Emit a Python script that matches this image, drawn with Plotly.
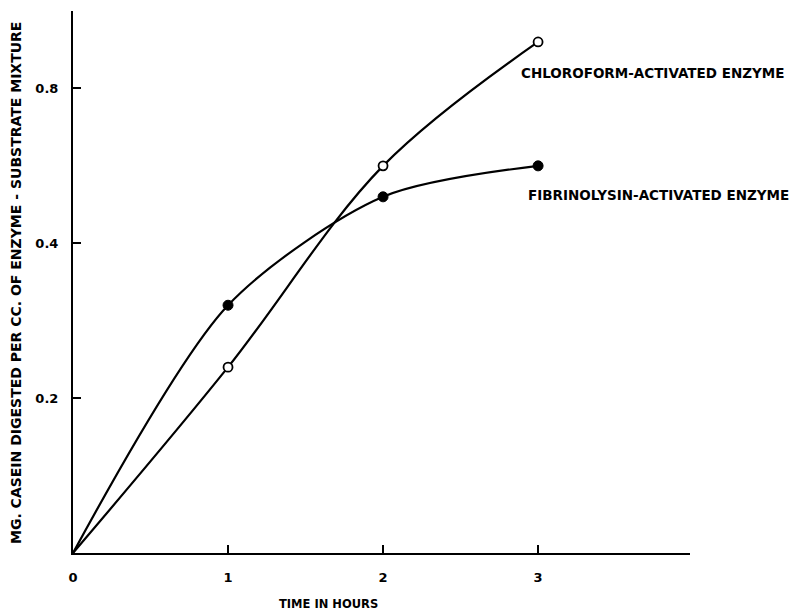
import plotly.graph_objects as go

hours = [0, 1, 2, 3]
chloroform = [0, 0.24, 0.50, 0.66]
fibrinolysin = [0, 0.32, 0.46, 0.50]

x_ticks = [0, 1, 2, 3]
x_ticklabels = ["0", "1", "2", "3"]
y_ticks = [0.2, 0.4, 0.6]
y_ticklabels = ["0.2", "0.4", "0.8"]

FONT = "DejaVu Sans"

fig = go.Figure()

fig.add_trace(go.Scatter(x=hours, y=chloroform, mode="lines",
                         line=dict(color="black", width=2.2, shape="spline", smoothing=1.0),
                         hoverinfo="skip", showlegend=False))
fig.add_trace(go.Scatter(x=hours, y=fibrinolysin, mode="lines",
                         line=dict(color="black", width=2.2, shape="spline", smoothing=0.8),
                         hoverinfo="skip", showlegend=False))
fig.add_trace(go.Scatter(x=hours[1:], y=chloroform[1:], mode="markers",
                         marker=dict(symbol="circle", size=9, color="white",
                                     line=dict(color="black", width=1.8)),
                         name="Chloroform-activated enzyme", showlegend=False))
fig.add_trace(go.Scatter(x=hours[1:], y=fibrinolysin[1:], mode="markers",
                         marker=dict(symbol="circle", size=10, color="black",
                                     line=dict(color="black", width=1)),
                         name="Fibrinolysin-activated enzyme", showlegend=False))

# plot area in page pixels: x 73..690, y 11..553 (page has an 8px body margin)
PX0, PX1, PY0, PY1 = 73, 690, 11, 553

fig.add_annotation(x=2.88, y=0.62, xref="x", yref="y", xanchor="left", yanchor="middle",
                   text="<b>CHLOROFORM-ACTIVATED ENZYME</b>", showarrow=False,
                   font=dict(family=FONT, size=13.5, color="black"))
fig.add_annotation(x=2.92, y=0.463, xref="x", yref="y", xanchor="left", yanchor="middle",
                   text="<b>FIBRINOLYSIN-ACTIVATED ENZYME</b>", showarrow=False,
                   font=dict(family=FONT, size=13.5, color="black"))
fig.add_annotation(x=(328 - PX0) / (PX1 - PX0), y=(PY1 - 604) / (PY1 - PY0),
                   xref="paper", yref="paper",
                   xanchor="center", yanchor="middle", showarrow=False,
                   text="<b>TIME IN HOURS</b>",
                   font=dict(family=FONT, size=11.5, color="black"))
fig.add_annotation(x=(16 - PX0) / (PX1 - PX0), y=(PY1 - 283) / (PY1 - PY0),
                   xref="paper", yref="paper",
                   xanchor="center", yanchor="middle", showarrow=False, textangle=-90,
                   text="<b>MG. CASEIN DIGESTED PER CC. OF ENZYME - SUBSTRATE MIXTURE</b>",
                   font=dict(family=FONT, size=14, color="black"))

W, H = 796, 605
fig.update_layout(
    width=W, height=H,
    margin=dict(l=PX0 - 8, r=W - (PX1 - 8), t=PY0 - 8, b=H - (PY1 - 8)),
    paper_bgcolor="white", plot_bgcolor="white",
    font=dict(family=FONT, size=12, color="black"),
)
fig.update_xaxes(range=[0, 3.98], tickvals=x_ticks,
                 ticktext=["<b>%s</b>" % t for t in x_ticklabels],
                 showgrid=False, zeroline=False, showline=True, linecolor="black", linewidth=2,
                 ticks="inside", ticklen=8, tickwidth=1.5, tickcolor="black",
                 tickfont=dict(family=FONT, size=13, color="black"),
                 ticklabelstandoff=11, automargin=False)
fig.update_yaxes(range=[0, 0.70], tickvals=y_ticks,
                 ticktext=["<b>%s</b>" % t for t in y_ticklabels],
                 showgrid=False, zeroline=False, showline=True, linecolor="black", linewidth=2,
                 ticks="inside", ticklen=8, tickwidth=1.5, tickcolor="black",
                 tickfont=dict(family=FONT, size=13, color="black"),
                 ticklabelstandoff=10, automargin=False)

fig.write_html("out.html")
